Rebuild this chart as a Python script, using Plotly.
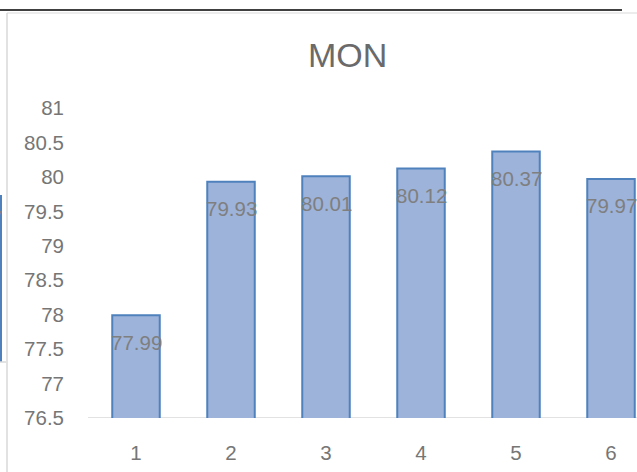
import plotly.graph_objects as go

categories = [1, 2, 3, 4, 5, 6]
values = [77.99, 79.93, 80.01, 80.12, 80.37, 79.97]
labels = ["77.99", "79.93", "80.01", "80.12", "80.37", "79.97"]
ytick_vals = [76.5, 77, 77.5, 78, 78.5, 79, 79.5, 80, 80.5, 81]
ytick_text = ["76.5", "77", "77.5", "78", "78.5", "79", "79.5", "80", "80.5", "81"]
title_text = "MON"

W, H = 637, 472
L, R, T, B = 88, 0, 108, 54
pw, ph = W - L - R, H - T - B

def px(x):
    return (x - L) / pw

def py(y):
    return (H - B - y) / ph

step = 95.0
x0 = 1 - (136 - L) / step
x1 = x0 + pw / step

FONT = "Liberation Sans"
GRAY = "#767676"

fig = go.Figure()
fig.add_trace(go.Bar(
    x=categories, y=values, width=0.5,
    marker=dict(color="#9db3da", line=dict(color="#4f81bd", width=2)),
    hoverinfo="skip",
))

annotations = []
for c, v, t in zip(categories, values, labels):
    annotations.append(dict(x=c, y=v, xref="x", yref="y", text=t, showarrow=False,
                             yshift=-27, yanchor="middle",
                             font=dict(family=FONT, size=20.5, color="#7f7f7f")))
annotations.append(dict(x=px(347), y=py(55), xref="paper", yref="paper", text=title_text,
                        showarrow=False, yanchor="middle", xanchor="center",
                        font=dict(family=FONT, size=34, color="#6a6a6a")))
annotations.append(dict(x=px(0), y=py(218), xref="paper", yref="paper", text="7",
                        showarrow=False, xanchor="right", yanchor="middle", xshift=4,
                        font=dict(family=FONT, size=20, color="#7f7f7f")))

shapes = [
    # top black rule
    dict(type="line", xref="paper", yref="paper", x0=px(0), x1=px(622), y0=py(10), y1=py(10),
         line=dict(color="#000000", width=1.5)),
    # chart border top and left
    dict(type="line", xref="paper", yref="paper", x0=px(7), x1=px(637), y0=py(13), y1=py(13),
         line=dict(color="#d9d9d9", width=1)),
    dict(type="line", xref="paper", yref="paper", x0=px(7), x1=px(7), y0=py(13), y1=py(472),
         line=dict(color="#d9d9d9", width=1.5)),
    # neighbouring chart fragment
    dict(type="line", xref="paper", yref="paper", x0=px(1), x1=px(1), y0=py(195), y1=py(362),
         line=dict(color="#4f81bd", width=2)),
    dict(type="line", xref="paper", yref="paper", x0=px(0), x1=px(6), y0=py(362), y1=py(362),
         line=dict(color="#d9d9d9", width=1.5)),
    # x axis baseline
    dict(type="line", xref="paper", yref="y", x0=0, x1=1, y0=76.5, y1=76.5,
         line=dict(color="#d9d9d9", width=1.5), layer="below"),
]

fig.update_layout(
    width=W, height=H,
    margin=dict(l=L, r=R, t=T, b=B, pad=0),
    paper_bgcolor="white", plot_bgcolor="white",
    showlegend=False,
    bargap=0.5,
    annotations=annotations,
    shapes=shapes,
    xaxis=dict(range=[x0, x1], tickvals=categories, ticktext=[str(c) for c in categories],
               showgrid=False, zeroline=False, showline=False, ticks="",
               ticklabelstandoff=20, tickfont=dict(family=FONT, size=20.5, color=GRAY)),
    yaxis=dict(range=[76.5, 81], tickvals=ytick_vals, ticktext=ytick_text,
               showgrid=False, zeroline=False, showline=False, ticks="",
               ticklabelstandoff=23, tickfont=dict(family=FONT, size=20.5, color=GRAY)),
)

fig.write_html("out.html")
